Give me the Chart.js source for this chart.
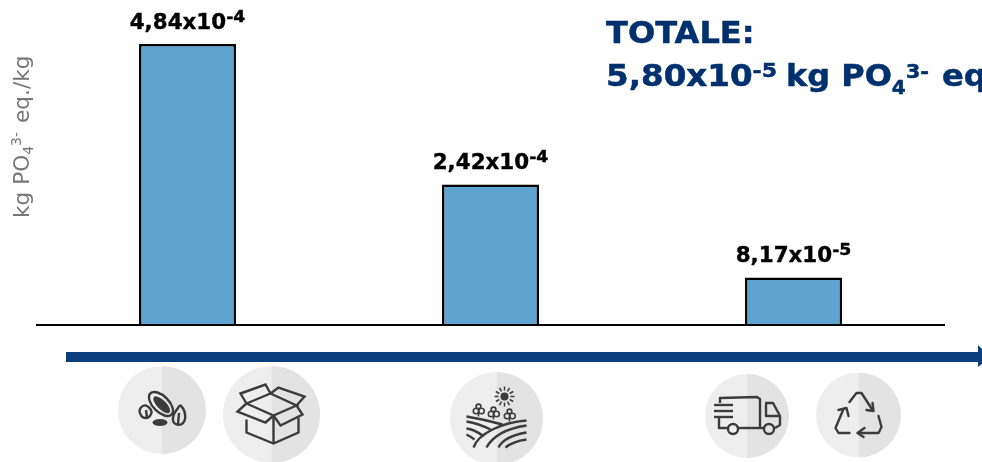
<!DOCTYPE html>
<html lang="en">
<head>
    <meta charset="UTF-8">
    <title>Eutrofizzazione</title>
    <script src="https://cdn.jsdelivr.net/npm/chart.js@4.4.1/dist/chart.umd.min.js"></script>
    <style>
        html, body {
            margin: 0;
            background: #fff;
            overflow: hidden;
        }
        canvas {
            display: block;
        }
    </style>
</head>
<body>
    <canvas id="chart" width="982" height="462"></canvas>

    <script>
        const stages = ['Semi e imballaggio', 'Coltivazione', 'Trasporto e fine vita'];
        const stageValues = [4.84e-4, 2.42e-4, 8.17e-5];
        const labelMantissas = ['4,84', '2,42', '8,17'];
        const labelExponents = ['-4', '-4', '-5'];

        const FONT = '"DejaVu Sans", sans-serif';
        const NAVY = '#00306e';
        const ARROW = '#0a3e7e';
        const ICON = '#3c3c3c';

        // text with sub/superscripts, laid out run by run along the baseline;
        // sx widens a run, thick adds a thin outline to heavy text
        function runWidth(ctx, r) {
            ctx.font = `${r.weight || 'normal'} ${r.size}px ${FONT}`;
            return ctx.measureText(r.text).width * (r.sx || 1) + (r.gap || 0);
        }

        function runsWidth(ctx, runs) {
            return runs.reduce((w, r) => w + runWidth(ctx, r), 0);
        }

        function drawRuns(ctx, runs, x, y, color, thick) {
            ctx.fillStyle = color;
            ctx.strokeStyle = color;
            ctx.textBaseline = 'alphabetic';
            ctx.textAlign = 'left';
            runs.forEach(r => {
                const w = runWidth(ctx, r);
                ctx.save();
                ctx.translate(x, y + (r.dy || 0));
                ctx.scale(r.sx || 1, 1);
                ctx.fillText(r.text, 0, 0);
                if (thick) {
                    ctx.lineWidth = thick;
                    ctx.lineJoin = 'round';
                    ctx.strokeText(r.text, 0, 0);
                }
                ctx.restore();
                x += w;
            });
        }

        function polyline(ctx, pts) {
            ctx.beginPath();
            pts.forEach((p, i) => i ? ctx.lineTo(p[0], p[1]) : ctx.moveTo(p[0], p[1]));
            ctx.stroke();
        }

        function seedsIcon(ctx) {
            ctx.save();
            ctx.translate(-1, -6);
            ctx.rotate(Math.PI / 4);
            ctx.beginPath();
            ctx.ellipse(0, 0, 15, 8, 0, 0, Math.PI * 2);
            ctx.stroke();
            ctx.beginPath();
            ctx.ellipse(1, 0, 11, 4.5, 0, 0, Math.PI * 2);
            ctx.fill();
            ctx.restore();
            ctx.beginPath();
            ctx.ellipse(-2, 12.5, 7.5, 3.5, 0, 0, Math.PI * 2);
            ctx.fill();
            // left seed
            ctx.beginPath();
            ctx.moveTo(-22, 3);
            ctx.bezierCurveTo(-24, -2, -18, -6, -15, -4);
            ctx.bezierCurveTo(-13, -3, -9, 1, -11, 4);
            ctx.bezierCurveTo(-13, 9, -20, 10, -22, 3);
            ctx.stroke();
            polyline(ctx, [[-16, 0], [-15, 8]]);
            // right seed
            ctx.beginPath();
            ctx.moveTo(18, -5);
            ctx.bezierCurveTo(24, 0, 25, 10, 20, 14);
            ctx.bezierCurveTo(16, 16, 10, 14, 11, 8);
            ctx.bezierCurveTo(11, 3, 15, 0, 18, -5);
            ctx.stroke();
            polyline(ctx, [[17, 3], [16, 14]]);
        }

        function boxIcon(ctx) {
            polyline(ctx, [[-25, 5], [-25, 18], [2, 29], [27, 18], [27, 3]]);
            polyline(ctx, [[2, 1], [2, 29]]);
            polyline(ctx, [[-25, -11], [-1, -21], [25, -9], [2, 1], [-25, -11]]);
            polyline(ctx, [[2, 1], [-6, 8], [-34, -3], [-25, -11]]);
            polyline(ctx, [[2, 1], [9, 11], [31, 0], [25, -9]]);
            polyline(ctx, [[-25, -11], [-31, -21], [-6, -30], [-1, -21]]);
            polyline(ctx, [[25, -9], [33, -18], [7, -27], [-1, -21]]);
        }

        function fieldIcon(ctx) {
            // sun
            ctx.beginPath();
            ctx.arc(8, -22, 4, 0, Math.PI * 2);
            ctx.fill();
            ctx.save();
            ctx.lineWidth = 1.5;
            for (let i = 0; i < 12; i++) {
                const a = i * Math.PI / 6;
                polyline(ctx, [
                    [8 + Math.cos(a) * 6, -22 + Math.sin(a) * 6],
                    [8 + Math.cos(a) * 10, -22 + Math.sin(a) * 10]
                ]);
            }
            ctx.restore();
            // plants
            ctx.save();
            ctx.lineWidth = 1.6;
            [[-18, -9], [-3, -6], [13, -4]].forEach(p => {
                polyline(ctx, [[p[0], p[1] - 2], [p[0], p[1] + 7]]);
                ctx.beginPath();
                ctx.arc(p[0], p[1] - 3, 2.4, 0, Math.PI * 2);
                ctx.moveTo(p[0] + 0.4, p[1] + 1.5);
                ctx.arc(p[0] - 2.4, p[1] + 1.5, 2.8, 0, Math.PI * 2);
                ctx.moveTo(p[0] + 5.8, p[1] + 1.5);
                ctx.arc(p[0] + 3, p[1] + 1.5, 2.8, 0, Math.PI * 2);
                ctx.stroke();
            });
            ctx.restore();
            // furrows, left slope then right slope
            const curves = [
                [-30, -2, -12, 1, 6, 6],
                [-30, 3, -18, 5, -6, 11],
                [-30, 10, -22, 11, -14, 17],
                [-30, 16, -26, 18, -22, 21],
                [30, 2, 5, 4, -18, 15, -23, 29],
                [30, 7, 10, 10, -4, 18, -10, 29],
                [30, 14, 18, 16, 6, 21, 2, 29],
                [30, 21, 22, 22, 14, 25, 9, 29]
            ];
            curves.forEach(c => {
                ctx.beginPath();
                ctx.moveTo(c[0], c[1]);
                if (c.length === 6) ctx.quadraticCurveTo(c[2], c[3], c[4], c[5]);
                else ctx.bezierCurveTo(c[2], c[3], c[4], c[5], c[6], c[7]);
                ctx.stroke();
            });
        }

        function truckIcon(ctx) {
            ctx.lineJoin = 'round';
            polyline(ctx, [[-27, -13], [-27, -18], [10, -19], [13, -17], [13, 12]]);
            polyline(ctx, [[-33, -11], [-14, -11]]);
            polyline(ctx, [[-33, -5], [-14, -5]]);
            polyline(ctx, [[-33, 1], [-14, 1]]);
            polyline(ctx, [[-28, 2], [-28, 12], [-20, 12]]);
            polyline(ctx, [[-9, 12], [16, 12]]);
            polyline(ctx, [[18, -13], [26, -13], [33, 0], [33, 9], [28, 12]]);
            polyline(ctx, [[19, -12], [19, 0], [33, 0]]);
            ctx.beginPath();
            ctx.arc(-14, 13, 5, 0, Math.PI * 2);
            ctx.moveTo(27, 13);
            ctx.arc(22, 13, 5, 0, Math.PI * 2);
            ctx.stroke();
        }

        function recycleIcon(ctx) {
            ctx.lineJoin = 'round';
            ctx.lineCap = 'round';
            polyline(ctx, [[-9, -13], [-2, -22], [3, -22], [14, -5]]);
            polyline(ctx, [[8, -5], [15, -4], [14, -12]]);
            polyline(ctx, [[20, 1], [23, 12], [20, 18], [0, 18]]);
            polyline(ctx, [[6, 13], [-1, 18], [5, 22]]);
            polyline(ctx, [[-9, 18], [-20, 18], [-23, 13], [-15, -6]]);
            polyline(ctx, [[-20, -5], [-12, -7], [-10, 1]]);
        }

        const icons = [
            { x: 162, y: 410, r: 44, draw: seedsIcon },
            { x: 271.5, y: 414.5, r: 48.5, draw: boxIcon },
            { x: 496.5, y: 418.5, r: 46.5, draw: fieldIcon },
            { x: 747, y: 416, r: 42, draw: truckIcon },
            { x: 858.5, y: 415, r: 42.5, draw: recycleIcon }
        ];

        // axis line, value labels, totals and the life cycle strip under the bars
        const decorations = {
            id: 'decorations',
            afterDatasetsDraw(chart) {
                const ctx = chart.ctx;
                const { left, right } = chart.chartArea;
                const base = chart.scales.y.getPixelForValue(0);

                ctx.save();
                ctx.strokeStyle = '#000';
                ctx.lineWidth = 2;
                polyline(ctx, [[left, base], [right, base]]);

                chart.getDatasetMeta(0).data.forEach((bar, i) => {
                    const runs = [
                        { text: labelMantissas[i] + 'x10', size: 21, weight: 'bold', sx: 1.02 },
                        { text: labelExponents[i], size: 15, weight: 'bold', sx: 1.15, dy: -7 }
                    ];
                    const w = runsWidth(ctx, runs);
                    drawRuns(ctx, runs, bar.x - w / 2, bar.y - 15.5, '#000', 0.4);
                });

                drawRuns(ctx, [{ text: 'TOTALE:', size: 31, weight: 'bold', sx: 1.035 }], 606, 43, NAVY, 0.5);
                drawRuns(ctx, [
                    { text: '5,80x10', size: 31, weight: 'bold', sx: 1.05 },
                    { text: '-5', size: 20, weight: 'bold', sx: 1.1, dy: -9, gap: 9 },
                    { text: 'kg PO', size: 31, weight: 'bold', sx: 1.03 },
                    { text: '4', size: 20, weight: 'bold', dy: 8 },
                    { text: '3-', size: 20, weight: 'bold', sx: 1.05, dy: -8, gap: 13 },
                    { text: 'eq', size: 31, weight: 'bold', sx: 1.035 }
                ], 606, 86, NAVY, 0.5);

                // y axis title
                ctx.save();
                ctx.translate(29, 218);
                ctx.rotate(-Math.PI / 2);
                drawRuns(ctx, [
                    { text: 'kg PO', size: 21, sx: 1.03 },
                    { text: '4', size: 14, dy: 4 },
                    { text: '3-', size: 14, dy: -8, gap: 9 },
                    { text: 'eq./kg', size: 21, sx: 1.03 }
                ], 0, 0, '#777777');
                ctx.restore();

                // arrow
                ctx.fillStyle = ARROW;
                ctx.fillRect(66, 352, 913, 10);
                ctx.beginPath();
                ctx.moveTo(978, 345);
                ctx.lineTo(990, 357);
                ctx.lineTo(978, 367);
                ctx.closePath();
                ctx.fill();

                icons.forEach(ic => {
                    ctx.save();
                    ctx.translate(ic.x, ic.y);
                    ctx.save();
                    ctx.beginPath();
                    ctx.arc(0, 0, ic.r, 0, Math.PI * 2);
                    ctx.clip();
                    ctx.fillStyle = '#eeeeee';
                    ctx.fillRect(-ic.r, -ic.r, ic.r, ic.r * 2);
                    ctx.fillStyle = '#e3e3e3';
                    ctx.fillRect(0, -ic.r, ic.r, ic.r * 2);
                    ctx.restore();
                    ctx.strokeStyle = ICON;
                    ctx.fillStyle = ICON;
                    ctx.lineWidth = 2.4;
                    ic.draw(ctx);
                    ctx.restore();
                });
                ctx.restore();
            }
        };

        new Chart(document.getElementById('chart'), {
            type: 'bar',
            data: {
                labels: stages,
                datasets: [{
                    data: stageValues,
                    backgroundColor: '#5fa3d0',
                    borderColor: '#000',
                    borderWidth: 2.5,
                    categoryPercentage: 1,
                    barPercentage: 0.32
                }]
            },
            options: {
                responsive: false,
                animation: false,
                layout: { padding: { left: 36, right: 37, top: 0, bottom: 137 } },
                plugins: {
                    legend: { display: false },
                    tooltip: { enabled: false }
                },
                scales: {
                    x: { display: false },
                    y: { display: false, min: 0, max: 5.6e-4 }
                }
            },
            plugins: [decorations]
        });
    </script>
</body>
</html>
